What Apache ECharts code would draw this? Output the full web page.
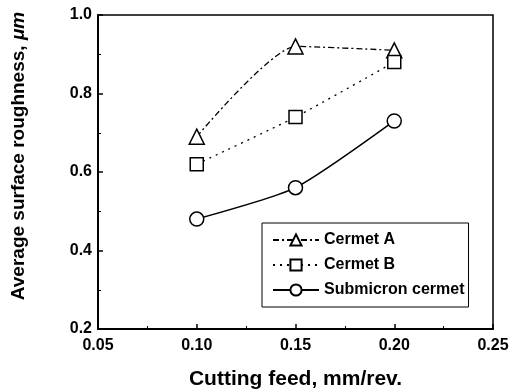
<!DOCTYPE html>
<html>
<head>
<meta charset="utf-8">
<script src="https://cdn.jsdelivr.net/npm/echarts@6/dist/echarts.min.js"></script>
<style>
  html, body { margin: 0; padding: 0; background: #fff; }
  #chart { width: 518px; height: 390px; }
</style>
</head>
<body>
<div id="chart"></div>
<script>
// cutting feed (mm/rev.)
const feeds = [0.10, 0.15, 0.20]
// average surface roughness (um)
const cermetA = [0.69, 0.92, 0.91]
const cermetB = [0.62, 0.74, 0.88]
const submicron = [0.48, 0.56, 0.73]

const seriesNames = ['Cermet A', 'Cermet B', 'Submicron cermet']

const font = 'Liberation Sans, Arial, sans-serif'

function pairs(ys) {
  return feeds.map((x, i) => [x, ys[i]])
}

const chart = echarts.init(document.getElementById('chart'))
chart.setOption({
  animation: false,
  grid: {
    left: 98,
    right: 25,
    top: 15,
    bottom: 61,
    outerBoundsMode: 'none',
    show: true,
    borderColor: '#000',
    borderWidth: 1.5
  },
  legend: {
    orient: 'vertical',
    left: 262,
    top: 223,
    padding: [9, 4, 9, 10],
    itemGap: 9,
    itemWidth: 46,
    itemHeight: 14,
    borderColor: '#000',
    borderWidth: 1,
    textStyle: {
      fontFamily: font,
      fontSize: 16,
      fontWeight: 'bold',
      color: '#000'
    },
    data: seriesNames
  },
  xAxis: {
    type: 'value',
    min: 0.05,
    max: 0.25,
    interval: 0.05,
    name: 'Cutting feed, mm/rev.',
    nameLocation: 'middle',
    nameGap: 40,
    nameTextStyle: {
      fontFamily: font,
      fontSize: 21,
      fontWeight: 'bold',
      color: '#000'
    },
    axisLine: { lineStyle: { color: '#000', width: 2 } },
    axisTick: { inside: true, length: 5, lineStyle: { color: '#000', width: 1.5 } },
    minorTick: { show: true, splitNumber: 2, length: 3, lineStyle: { color: '#000', width: 1 } },
    splitLine: { show: false },
    axisLabel: {
      fontFamily: font,
      fontSize: 16,
      fontWeight: 'bold',
      color: '#000',
      margin: 9,
      formatter: (v) => v.toFixed(2)
    }
  },
  yAxis: {
    type: 'value',
    min: 0.2,
    max: 1.0,
    interval: 0.2,
    name: 'Average surface roughness, {i|μm}',
    nameLocation: 'middle',
    nameGap: 70,
    nameTextStyle: {
      fontFamily: font,
      fontSize: 19,
      fontWeight: 'bold',
      color: '#000',
      padding: [0, 0, 0, 32],
      rich: {
        i: { fontFamily: font, fontSize: 19, fontStyle: 'italic', color: '#000' }
      }
    },
    axisLine: { lineStyle: { color: '#000', width: 2 } },
    axisTick: { inside: true, length: 5, lineStyle: { color: '#000', width: 1.5 } },
    minorTick: { show: true, splitNumber: 2, length: 3, lineStyle: { color: '#000', width: 1 } },
    splitLine: { show: false },
    axisLabel: {
      fontFamily: font,
      fontSize: 16,
      fontWeight: 'bold',
      color: '#000',
      margin: 6,
      formatter: (v) => v.toFixed(1)
    }
  },
  series: [
    {
      name: seriesNames[0],
      type: 'line',
      data: pairs(cermetA),
      smooth: 0.2,
      symbol: 'triangle',
      symbolSize: 15,
      lineStyle: { color: '#000', width: 1.3, type: [6, 3, 2, 3] },
      itemStyle: { color: '#fff', borderColor: '#000', borderWidth: 1.5 }
    },
    {
      name: seriesNames[1],
      type: 'line',
      data: pairs(cermetB),
      smooth: 0.2,
      symbol: 'rect',
      symbolSize: 13,
      lineStyle: { color: '#000', width: 1.3, type: [2, 5] },
      itemStyle: { color: '#fff', borderColor: '#000', borderWidth: 1.5 }
    },
    {
      name: seriesNames[2],
      type: 'line',
      data: pairs(submicron),
      smooth: 0.2,
      symbol: 'circle',
      symbolSize: 14,
      lineStyle: { color: '#000', width: 1.5 },
      itemStyle: { color: '#fff', borderColor: '#000', borderWidth: 1.5 }
    }
  ]
})
</script>
</body>
</html>
